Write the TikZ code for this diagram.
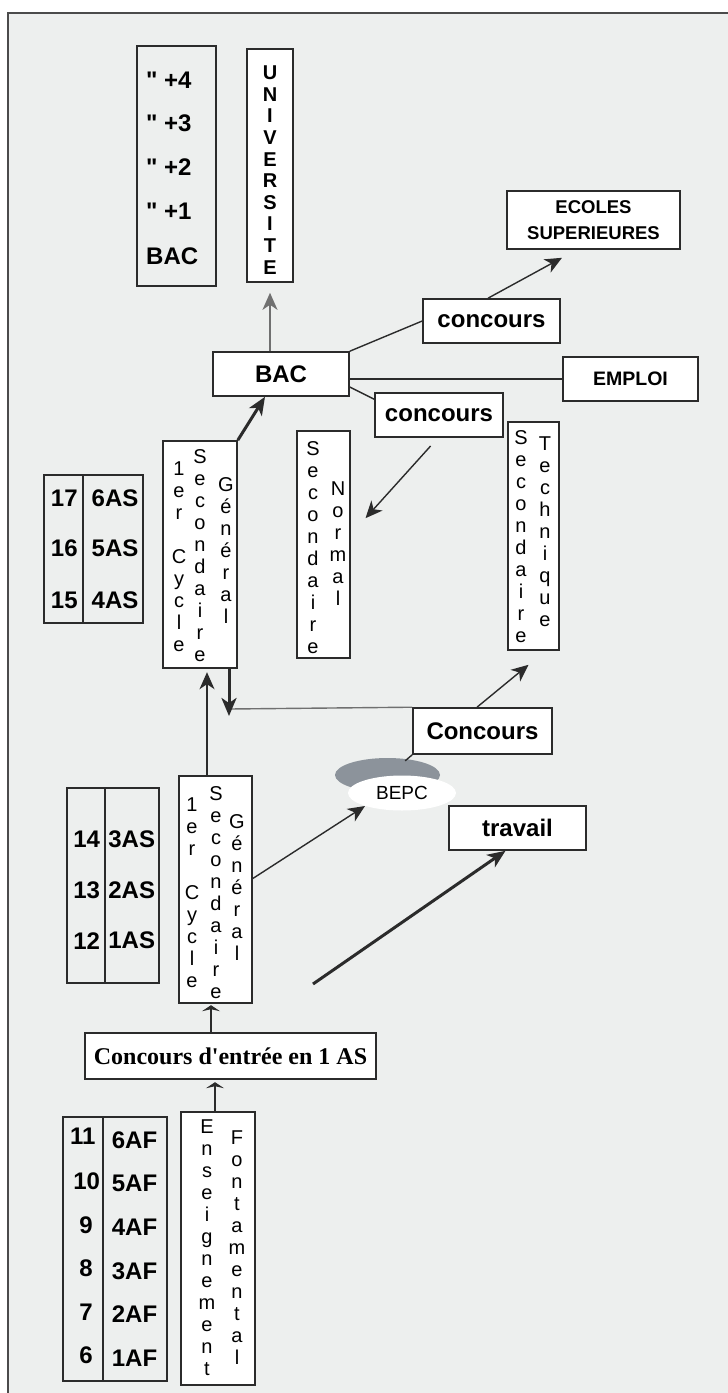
\documentclass[tikz,border=0pt]{standalone}
\usepackage{fontspec}
\setmainfont{Liberation Sans}[Ligatures=TeXOff]
\newfontfamily\timesfont{Liberation Serif}[Ligatures=TeXOff]
\usetikzlibrary{arrows.meta,shapes.geometric}
\definecolor{paper}{HTML}{EDEFEE}
\definecolor{ink}{HTML}{2B2B2B}
\definecolor{greyline}{HTML}{707070}
\definecolor{bepcgrey}{HTML}{8C939B}

\begin{document}
\begin{tikzpicture}[x=1pt,y=-1pt,
  box/.style={draw=ink,line width=1.6pt,fill=white,inner sep=0pt,font=\fontsize{24}{26}\selectfont\bfseries},
  cell/.style={draw=ink,line width=1.6pt,inner sep=0pt},
  vert/.style={inner sep=0pt,align=center,font=\fontsize{20}{22}\selectfont},
  lab/.style={inner sep=0pt,font=\fontsize{24}{26}\selectfont\bfseries},
  link/.style={draw=ink,line width=1.4pt},
  arr/.style={link,-{Stealth[length=17pt,width=15pt,inset=5pt]}},
  bigarr/.style={draw=ink,line width=3pt,-{Stealth[length=18pt,width=15pt,inset=5pt]}},
  flatarr/.style={link,-{Stealth[length=6pt,width=18pt,inset=2pt]}}]

% page and frame
\useasboundingbox (0,0) rectangle (728,1393);
\fill[white] (0,0) rectangle (728,1393);
\fill[paper] (8,13) rectangle (728,1393);
\draw[draw=ink!85,line width=2.5pt] (8,1393) -- (8,13) -- (728,13);

% top: years after the bac and university
\node[cell,minimum width=79pt,minimum height=240pt] (grades4) at (176.5,166) {};
\node[lab,anchor=west] (g4) at (146,80) {" +4};
\node[lab,anchor=west] (g3) at (146,123) {" +3};
\node[lab,anchor=west] (g2) at (146,167) {" +2};
\node[lab,anchor=west] (g1) at (146,211) {" +1};
\node[lab,anchor=west] (gbac) at (146,256) {BAC};

\node[box,minimum width=46pt,minimum height=233pt] (univ) at (270,165.5) {};
\node[vert,font=\fontsize{20}{21.6}\selectfont\bfseries] (univtxt) at (270,170) {U\\N\\I\\V\\E\\R\\S\\I\\T\\E};

\node[box,font=\fontsize{18.5}{26}\selectfont\bfseries,align=center,minimum width=173pt,minimum height=58pt] (ecoles) at (593.5,220) {ECOLES\\SUPERIEURES};
\node[box,minimum width=137pt,minimum height=44pt] (conc1) at (491.5,321) {concours};
\node[box,minimum width=136pt,minimum height=44pt] (bac) at (281,374) {BAC};
\node[box,font=\fontsize{19.5}{21}\selectfont\bfseries,minimum width=135pt,minimum height=44pt] (emploi) at (630.5,379) {EMPLOI};
\node[box,minimum width=128pt,minimum height=44pt] (conc2) at (439,415) {concours};

% second cycle
\node[cell,minimum width=99pt,minimum height=148pt] (grades3) at (93.5,549) {};
\coordinate (div3) at (83,549);
\draw[link] (grades3.north -| div3) -- (grades3.south -| div3);
\node[lab] (n17) at (64.3,498.5) {17};
\node[lab] (n16) at (64.3,548.5) {16};
\node[lab] (n15) at (64.3,600) {15};
\node[lab] (c6as) at (115,498.5) {6AS};
\node[lab] (c5as) at (115,548.5) {5AS};
\node[lab] (c4as) at (115,600) {4AS};

\node[box,minimum width=74pt,minimum height=227pt] (cyc2) at (200,554.5) {};
\node[vert] (cyc2a) at (179,556.5) {1\\e\\r\\~\\C\\y\\c\\l\\e};
\node[vert] (cyc2b) at (200,556) {S\\e\\c\\o\\n\\d\\a\\i\\r\\e};
\node[vert] (cyc2c) at (226,551) {G\\é\\n\\é\\r\\a\\l};

\node[box,minimum width=53pt,minimum height=227pt] (secN) at (323.5,544.5) {};
\node[vert] (secNa) at (313,547.5) {S\\e\\c\\o\\n\\d\\a\\i\\r\\e};
\node[vert] (secNb) at (338,544) {N\\o\\r\\m\\a\\l};

\node[box,minimum width=51pt,minimum height=228pt] (secT) at (533.5,536) {};
\node[vert] (secTa) at (521,536.5) {S\\e\\c\\o\\n\\d\\a\\i\\r\\e};
\node[vert] (secTb) at (545,531.5) {T\\e\\c\\h\\n\\i\\q\\u\\e};

\node[box,minimum width=139pt,minimum height=46pt] (concours) at (482.5,731) {Concours};

\fill[bepcgrey] (387.5,775) ellipse [x radius=52.5, y radius=17];
\node[ellipse,fill=white,minimum width=108pt,minimum height=35pt,inner sep=0pt,font=\fontsize{19}{20}\selectfont] (bepc) at (402,793) {BEPC};

\node[box,minimum width=137pt,minimum height=44pt] (travail) at (517.5,828) {travail};

% first cycle
\node[cell,minimum width=92pt,minimum height=195pt] (grades2) at (113,885.5) {};
\coordinate (div2) at (105,885.5);
\draw[link] (grades2.north -| div2) -- (grades2.south -| div2);
\node[lab] (n14) at (86.7,839.3) {14};
\node[lab] (n13) at (86.7,890.7) {13};
\node[lab] (n12) at (86.7,940.7) {12};
\node[lab] (c3as) at (131.7,839.3) {3AS};
\node[lab] (c2as) at (131.7,890.7) {2AS};
\node[lab] (c1as) at (131.7,940.7) {1AS};

\node[box,minimum width=73pt,minimum height=227pt] (cyc1) at (215.5,889.5) {};
\node[vert] (cyc1a) at (192,892.5) {1\\e\\r\\~\\C\\y\\c\\l\\e};
\node[vert] (cyc1b) at (216,893) {S\\e\\c\\o\\n\\d\\a\\i\\r\\e};
\node[vert] (cyc1c) at (237,887.5) {G\\é\\n\\é\\r\\a\\l};

\node[box,font=\timesfont\fontsize{24}{26}\selectfont\bfseries,minimum width=291pt,minimum height=46pt] (entree) at (230.5,1056) {Concours d'entrée en 1 AS};

% fundamental
\node[cell,minimum width=104pt,minimum height=264pt] (grades1) at (115,1249) {};
\coordinate (div1) at (103,1249);
\draw[link] (grades1.north -| div1) -- (grades1.south -| div1);
\node[lab] (n11) at (82.7,1136) {11};
\node[lab] (n10) at (86.7,1181) {10};
\node[lab] (n9) at (86,1225) {9};
\node[lab] (n8) at (86,1268) {8};
\node[lab] (n7) at (86,1312) {7};
\node[lab] (n6) at (86,1355) {6};
\node[lab,anchor=west] (c6af) at (111.7,1140) {6AF};
\node[lab,anchor=west] (c5af) at (111.7,1183.6) {5AF};
\node[lab,anchor=west] (c4af) at (111.7,1227.2) {4AF};
\node[lab,anchor=west] (c3af) at (111.7,1270.8) {3AF};
\node[lab,anchor=west] (c2af) at (111.7,1314.4) {2AF};
\node[lab,anchor=west] (c1af) at (111.7,1358) {1AF};

\node[box,minimum width=74pt,minimum height=273pt] (ens) at (218,1248.5) {};
\node[vert] (ensa) at (207,1247.5) {E\\n\\s\\e\\i\\g\\n\\e\\m\\e\\n\\t};
\node[vert] (ensb) at (237,1248) {F\\o\\n\\t\\a\\m\\e\\n\\t\\a\\l};

% connectors
\draw[arr,draw=greyline] (bac.north -| univ.south) -- ([yshift=-10pt]univ.south);
\draw[link] (bac.north east) -- (conc1.west);
\draw[arr] ([xshift=-3.5pt]conc1.north) -- ([xshift=-31.5pt,yshift=-8pt]ecoles.south);
\draw[link] (emploi.west) -- (emploi.west -| bac.east);
\draw[link] ([yshift=-13pt]bac.east) -- ([yshift=-7pt]conc2.north west);
\draw[arr,shorten <=11pt,shorten >=22pt] ([xshift=-1pt]conc2.south) -- ([yshift=10pt]secN.east);
\draw[bigarr] (cyc2.north east) -- ([xshift=-16pt]bac.south);

\coordinate (turn) at (229,709);
\draw[link,draw=greyline] (concours.north west) -- (turn);
\draw[bigarr] (cyc2.south -| turn) -- ([yshift=-7pt]turn);

\draw[arr] ([xshift=-8.5pt]cyc1.north) -- ++(0,-103);
\draw[arr] ([yshift=11pt]cyc1.east) -- ([xshift=-37pt,yshift=-13pt]bepc.center);
\draw[arr] ([xshift=-5.5pt]concours.north) -- ([xshift=-5pt,yshift=-14pt]secT.south);
\draw[link] (concours.south west) -- ++(-7,6);

\coordinate (push) at (313,984);
\draw[bigarr] (push) -- ([xshift=-12pt]travail.south);

\draw[flatarr] ([xshift=-19.5pt]entree.north) -- ++(0,-27);
\draw[flatarr] ([xshift=-3pt]ens.north) -- ++(0,-29);
\end{tikzpicture}
\end{document}
